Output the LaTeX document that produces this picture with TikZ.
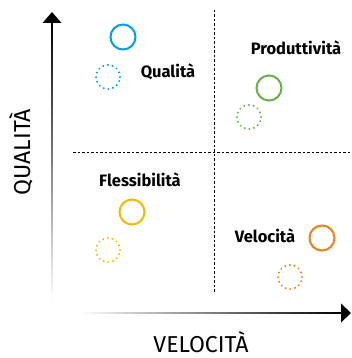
\documentclass[tikz,border=0pt]{standalone}
\usepackage{fontspec}
\setmainfont{Fira Sans}
\definecolor{qblue}{RGB}{0,160,227}
\definecolor{pgreen}{RGB}{106,176,76}
\definecolor{fyellow}{RGB}{246,184,0}
\definecolor{vorange}{RGB}{238,127,26}

\begin{document}
\begin{tikzpicture}
[x=1pt,y=-1pt,
 ring/.style={draw=#1, circle, line width=2pt, minimum size=25pt, inner sep=0pt},
 dotring/.style={draw=#1, circle, line width=2.2pt, minimum size=24pt, inner sep=0pt,
   line cap=round, dash pattern=on 0.01pt off 4.7pt},
 quad label/.style={font=\bfseries\fontsize{16.5}{16.5}\selectfont},
 axis label/.style={font=\fontsize{23}{23}\selectfont, inner sep=0pt, anchor=base},
 grid line/.style={line width=0.8pt, dash pattern=on 2.5pt off 2pt},
]
\useasboundingbox (0,0) rectangle (352,358);

% axes
\shade[top color=black, bottom color=white] (51.2,22) rectangle (52.8,300);
\fill[black] (52,12) coordinate (ytip) -- (61.5,23) -- (42.5,23) -- cycle;
\shade[left color=white, right color=black] (80,312.2) rectangle (342,313.8);
\fill[black] (351,313) coordinate (xtip) -- (341,303.5) -- (341,322.5) -- cycle;

% quadrant lines
\coordinate (hl) at (73,152);  \coordinate (hr) at (350,152);
\coordinate (vt) at (214,10);  \coordinate (vb) at (214,292);
\draw[grid line] (hl) -- (hr);
\draw[grid line] (vt) -- (vb);

% rings: name/colour/solid x/y/dotted x/y
\foreach \nm/\col/\xa/\ya/\xb/\yb in
  {qual/qblue/123/37/108/77, prod/pgreen/269/88/249/117,
   fless/fyellow/132/212/108/250, velo/vorange/322/238/290/277}
{
{\node[ring=\col] (\nm) at (\xa,\ya) {};}
{\node[dotring=\col] (\nm-d) at (\xb,\yb) {};}
}

\node[quad label] (qual-t) at (168,72) {Qualità};
\node[quad label] (prod-t) at (296,48) {Produttività};
\node[quad label] (fless-t) at (140,180) {Flessibilità};
\node[quad label] (velo-t) at (265,236) {Velocità};

\node[axis label, rotate=90] (ylab) at (30,152) {QUALITÀ};
\node[axis label] (xlab) at (201,352) {VELOCITÀ};
\end{tikzpicture}
\end{document}
